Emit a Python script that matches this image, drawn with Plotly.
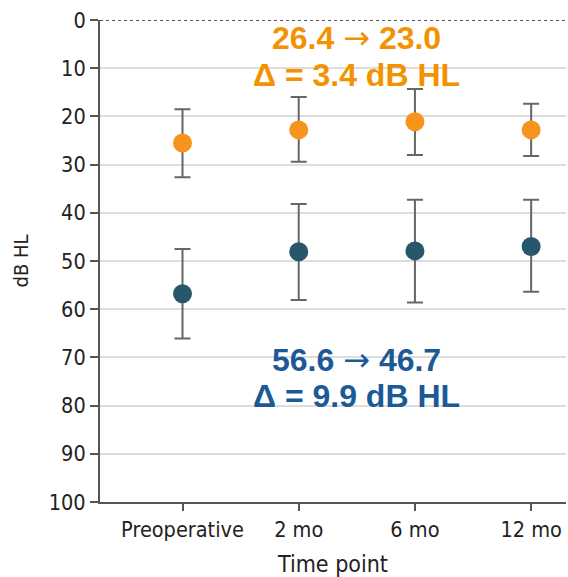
import plotly.graph_objects as go

categories = ["Preoperative", "2 mo", "6 mo", "12 mo"]
tick_vals_y = [0, 10, 20, 30, 40, 50, 60, 70, 80, 90, 100]

orange_mean = [25.5, 22.8, 21.1, 22.8]
orange_low = [18.5, 16.0, 14.3, 17.4]
orange_high = [32.6, 29.4, 28.0, 28.2]

teal_mean = [56.8, 48.1, 47.9, 47.0]
teal_low = [47.5, 38.2, 37.3, 37.3]
teal_high = [66.1, 58.1, 58.6, 56.4]

orange_text = ["26.4 → 23.0", "Δ = 3.4 dB HL"]
teal_text = ["56.6 → 46.7", "Δ = 9.9 dB HL"]

ORANGE = "#F7941D"
TEAL = "#28566A"
ORANGE_TXT = "#F39200"
BLUE_TXT = "#1B5A96"
GRAY = "#666666"
tick_font = "Liberation Sans Narrow, DejaVu Sans Condensed, Arial Narrow, sans-serif"


def fmt(t):
    return "<b>%s</b>" % t.replace(
        "→", '<span style="font-family:DejaVu Sans;font-weight:normal">→</span>')


x_idx = list(range(len(categories)))

fig = go.Figure()
for mean, lo, hi, col in [(orange_mean, orange_low, orange_high, ORANGE),
                          (teal_mean, teal_low, teal_high, TEAL)]:
    fig.add_trace(go.Scatter(
        x=x_idx, y=mean, mode="markers",
        marker=dict(size=19, color=col),
        error_y=dict(type="data", symmetric=False,
                     array=[h - m for h, m in zip(hi, mean)],
                     arrayminus=[m - l for m, l in zip(mean, lo)],
                     color=GRAY, thickness=2, width=8),
        showlegend=False,
    ))

fig.add_shape(type="line", xref="paper", yref="y", x0=0, x1=1, y0=0, y1=0,
              line=dict(color="#555555", width=2, dash="dot"))

for i, t in enumerate(orange_text):
    fig.add_annotation(x=1.5, y=[3.8, 11.5][i], xref="x", yref="y", text=fmt(t),
                       showarrow=False, font=dict(family="Liberation Sans, Arial", size=32, color=ORANGE_TXT))
for i, t in enumerate(teal_text):
    fig.add_annotation(x=1.5, y=[70.5, 78.0][i], xref="x", yref="y", text=fmt(t),
                       showarrow=False, font=dict(family="Liberation Sans, Arial", size=32, color=BLUE_TXT))

fig.update_layout(
    width=568, height=577,
    margin=dict(l=100, r=2, t=20, b=75, autoexpand=False),
    plot_bgcolor="white", paper_bgcolor="white",
    font=dict(family=tick_font, size=21, color="#222222"),
)
fig.update_xaxes(
    range=[-0.71, 3.3], tickvals=x_idx, ticktext=categories, automargin=False,
    tickfont=dict(size=21.5), ticklabeloverflow="allow",
    showgrid=False, zeroline=False,
    showline=True, linecolor="#555555", linewidth=2,
    ticks="outside", ticklen=7, tickwidth=2, tickcolor="#555555",
    title=dict(text="Time point", font=dict(size=23), standoff=18),
)
fig.update_yaxes(
    range=[100, 0], tickvals=tick_vals_y, automargin=False,
    tickfont=dict(size=21.5), ticklabeloverflow="allow",
    showgrid=True, gridcolor="#DDDDDD", gridwidth=1.5, zeroline=False,
    showline=True, linecolor="#555555", linewidth=2,
    ticks="outside", ticklen=8, tickwidth=2, tickcolor="#555555",
    title=dict(text="dB HL", font=dict(size=20), standoff=15),
)

fig.write_html(
    "out.html",
    config={"displayModeBar": False},
    post_script="document.body.style.margin='0';document.body.style.overflow='hidden';",
)
